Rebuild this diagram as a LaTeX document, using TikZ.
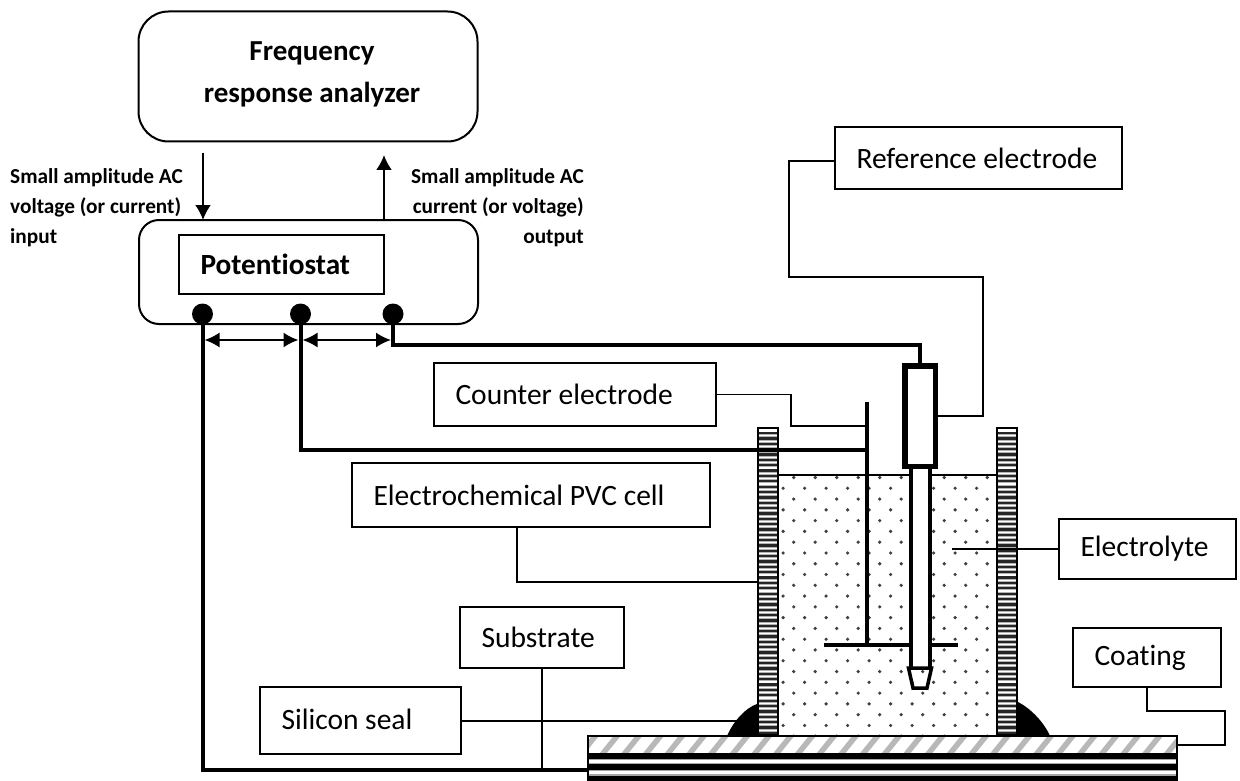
\documentclass[tikz,border=0pt]{standalone}
\usepackage{fontspec}
\setmainfont{Carlito}[Ligatures=CommonOff]
\usetikzlibrary{arrows.meta}
\newcommand{\padtxt}[2]{\makebox[#1][l]{\hspace*{21.5pt}#2}}
\tikzset{
 x=1pt,y=-1pt,
 lab/.style={draw=black,line width=1.8pt,rectangle,inner sep=0pt,font=\fontsize{29.5}{34}\selectfont},
 lead/.style={draw=black,line width=1.7pt},
 wire/.style={draw=black,line width=4pt},
 sig/.style={draw=black,line width=2pt,-{Latex[length=15pt,width=16pt]}},
 dbl/.style={draw=black,line width=2pt,{Latex[length=15pt,width=15pt]}-{Latex[length=15pt,width=15pt]}},
 small/.style={font=\fontsize{21.3}{30}\selectfont\bfseries,inner sep=0pt},
 term/.style={circle,fill=black,minimum size=21pt,inner sep=0pt},
}
\begin{document}
\begin{tikzpicture}
\useasboundingbox (0,0) rectangle (1240,781);
\fill[white] (0,0) rectangle (1240,781);
% analyzer
\node[draw,line width=2pt,rounded corners=30pt,minimum width=339pt,minimum height=130pt,inner sep=0pt] (fra) at (308,76.5) {};
\node[inner sep=0pt,align=center,font=\fontsize{29}{42}\selectfont\bfseries] (fratxt) at (312,74) {Frequency\\response analyzer};
% potentiostat
\node[draw,line width=2pt,rounded corners=20pt,minimum width=339pt,minimum height=104pt,inner sep=0pt] (pot) at (308.5,272) {};
\node[lab,minimum width=205pt,minimum height=59pt,font=\fontsize{29.3}{34}\selectfont\bfseries] (potin) at (281.5,264.5) {\padtxt{205pt}{Potentiostat}};
% signals
\coordinate (inA) at (203,153); \coordinate (inB) at (203,220);
\coordinate (outA) at (384,219); \coordinate (outB) at (384,155);
\draw[sig] (inA) -- (inB);
\draw[sig] (outA) -- (outB);
\node[small,anchor=west,align=left] (lin) at (10,208) {Small amplitude AC\\voltage (or current)\\input};
\node[small,anchor=east,align=right] (lout) at (584,208) {Small amplitude AC\\current (or voltage)\\output};
% terminals
\node[term] (t1) at (202.5,314) {};
\node[term] (t2) at (300.5,314) {};
\node[term] (t3) at (393,314) {};
% cell body: liquid
\foreach \r in {0,...,24}{
  \pgfmathsetmacro{\yy}{477.5+10.78*\r}
  \pgfmathtruncatemacro{\odd}{mod(\r,2)}
  \foreach \c in {0,...,9}{
    \pgfmathsetmacro{\xx}{(\odd==1 ? 783.1 : 793.7)+21.5*\c}
    \fill[black!75] (\xx,\yy) circle (1.8pt);
  }
}
\draw[line width=2pt] (778,475) -- (997,475);
% walls
\foreach \wx in {758,997}{
  \fill[white] (\wx,428) rectangle ++(20,307);
  \foreach \i in {0,...,56}{
    \pgfmathsetmacro{\yy}{432+5.35*\i}
    \fill[black!85] (\wx,\yy) rectangle ++(20,2.3);
    \fill[black!30] (\wx,\yy+2.3) rectangle ++(20,0.9);
    \fill[black!30] (\wx,\yy+4.4) rectangle ++(20,0.95);
  }
  \draw[line width=2.6pt] (\wx,428) rectangle ++(20,307);
}
% seals
\fill[black] (727,736) .. controls (733,722) and (745,708) .. (757,704) -- (757,736) -- cycle;
\fill[black] (1018,702) .. controls (1030,708) and (1044,722) .. (1050,736) -- (1018,736) -- cycle;
% plate
\fill[white] (588,736) rectangle (1177,781);
\begin{scope}
\clip (588,736) rectangle (1177,753);
\foreach \i in {0,...,28}{
  \draw[black!28,line width=5.5pt] (588+\i*21.7-8,755) -- ++(17,-21);
}
\end{scope}
\fill[black] (588,753) rectangle (1177,758.5);
\fill[black!35] (588,758.5) rectangle (1177,760);
\fill[black!35] (588,762.5) rectangle (1177,764);
\fill[black] (588,764) rectangle (1177,769.5);
\fill[black!35] (588,769.5) rectangle (1177,771);
\fill[black!35] (588,774) rectangle (1177,775.5);
\fill[black] (588,775.5) rectangle (1177,781);
\draw[line width=2pt] (588,781) -- (588,736) -- (1177,736) -- (1177,781);
% counter electrode
\coordinate (ceT) at (867,402); \coordinate (ceB) at (867,645);
\draw[line width=3.5pt] (ceT) -- (ceB);
\draw[line width=3.5pt] (824,645) -- (958,645);
% reference electrode
\fill[white] (910.5,469) rectangle (929.5,668);
\draw[line width=4pt] (910.5,469) -- (910.5,668) (929.5,469) -- (929.5,668);
\draw[line width=3.5pt] (908.5,668) -- (931.5,668) -- (927,688) -- (913,688) -- cycle;
\node[draw,line width=5.5pt,minimum width=30.5pt,minimum height=100.5pt,inner sep=0pt,fill=white,outer sep=0pt] (re) at (920,416) {};
% wires
\coordinate (w1) at (202.5,770); \coordinate (w2) at (300.5,450); \coordinate (w3) at (393,345); \coordinate (w3b) at (920,345); \coordinate (plate) at (588,770);
\draw[wire] (t1.center) -- (w1) -- (plate);
\draw[wire] (t2.center) -- (w2) -- (867,450);
\draw[wire] (t3.center) -- (w3) -- (w3b) -- (920,363);
% spacing arrows
\coordinate (d1) at (204.5,340); \coordinate (d2) at (298.5,340); \coordinate (d3) at (302.5,340); \coordinate (d4) at (391,340);
\draw[dbl] (d1) -- (d2);
\draw[dbl] (d3) -- (d4);
% labels
\node[lab,minimum width=287pt,minimum height=62pt] (lre) at (978.5,158) {\padtxt{287pt}{Reference electrode}};
\node[lab,minimum width=282pt,minimum height=63pt] (lce) at (575,394.5) {\padtxt{282pt}{Counter electrode}};
\node[lab,minimum width=358pt,minimum height=64pt] (lpvc) at (531,495) {\padtxt{358pt}{Electrochemical PVC cell}};
\node[lab,minimum width=177pt,minimum height=60pt] (lel) at (1147.5,549) {\padtxt{177pt}{Electrolyte}};
\node[lab,minimum width=164pt,minimum height=61pt] (lsub) at (542,637.5) {\padtxt{164pt}{Substrate}};
\node[lab,minimum width=201pt,minimum height=67pt] (lsil) at (360.5,720.5) {\padtxt{201pt}{\raisebox{3pt}{Silicon seal}}};
\node[lab,minimum width=148pt,minimum height=59pt] (lcoat) at (1147,657.5) {\padtxt{148pt}{Coating}};
% leaders
\draw[lead] (lre.west |- 0,161) -- (789,161) -- (789,277) -- (983,277) -- (983,416) -- (re.east |- 0,416);
\draw[lead] (lce.east) -- (791,394.5) -- (791,426) -- (867,426);
\draw[lead] (517,527) -- (517,582) -- (758,582);
\draw[lead] (lel.west |- 0,549) -- (952,549);
\draw[lead] (lsub.south) -- (542,770);
\draw[lead] (lsil.east |- 0,720.7) -- (737,720.7);
\draw[lead] (lcoat.south) -- (1147,711) -- (1225,711) -- (1225,745) -- (1177,745);
\end{tikzpicture}
\end{document}
